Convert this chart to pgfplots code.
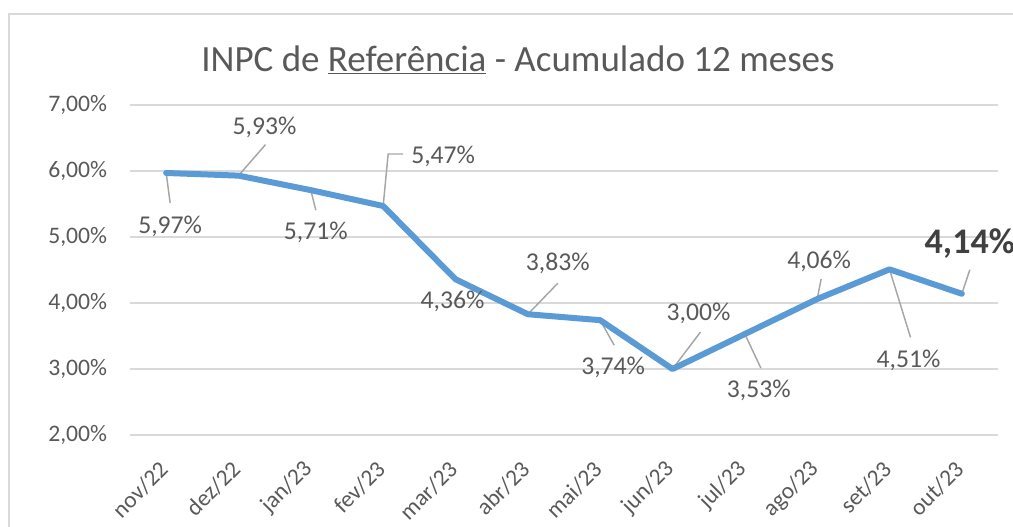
\documentclass[border=0pt]{standalone}
\usepackage{pgfplots}
\pgfplotsset{compat=1.18}
\usepackage{pgfplotstable}
\usepackage{fontspec}
\setmainfont{Carlito}
\definecolor{linec}{HTML}{5B9BD5}
\definecolor{txt}{HTML}{595959}
\definecolor{dark}{HTML}{404040}
\definecolor{gridc}{HTML}{D9D9D9}
\definecolor{lead}{HTML}{A6A6A6}
\pgfkeys{/pgf/number format/assume math mode=true}

% x, value, label offset (pt, from point to label centre)
\pgfplotstableread{
x y dx dy
0 5.97 3 -39.75
1 5.93 19.5 36
2 5.71 3.75 -31.9
3 5.47 45 37.5
4 4.36 -2.25 -16.9
5 3.83 22.5 38.3
6 3.74 9.75 -35.25
7 3.00 19.5 42
8 3.53 10.5 -42
9 4.06 1.5 28.5
10 4.51 14.25 -68.25
11 4.14 6 37.5
}\data

\begin{document}
\begin{tikzpicture}
\path[use as bounding box] (-97.5pt,-68.25pt) rectangle (662.25pt,326.25pt);
\draw[gridc, line width=1.2pt] (-90.75pt,-90pt) -- (-90.75pt,315.75pt) -- (700pt,315.75pt);
\begin{axis}[
  at={(0pt,0pt)}, anchor=south west,
  scale only axis, width=651pt, height=247.5pt,
  xmin=-0.5, xmax=11.5, ymin=2, ymax=7,
  axis line style={draw=none},
  tick style={draw=none},
  ymajorgrids, major grid style={gridc, line width=1.1pt},
  ytick={2,3,4,5,6,7},
  yticklabel={\pgfmathprintnumber[fixed,fixed zerofill,precision=2,use comma]{\tick}\%},
  yticklabel style={text=txt, font=\fontsize{17.75}{20}\selectfont, anchor=east, inner sep=0pt, xshift=-17pt},
  xtick={0,...,11},
  xticklabels={nov/22,dez/22,jan/23,fev/23,mar/23,abr/23,mai/23,jun/23,jul/23,ago/23,set/23,out/23},
  xticklabel style={text=txt, font=\fontsize{17.5}{20}\selectfont, inner sep=0pt, xshift=-1.5pt, yshift=-23pt, rotate=45, anchor=east},
  clip=false,
]
% leader lines
\draw[lead, line width=1.1pt] (axis cs:0,5.97) -- ++(3pt,-22.5pt);
\draw[lead, line width=1.1pt] (axis cs:1,5.93) -- ++(20.25pt,23.25pt);
\draw[lead, line width=1.1pt] (axis cs:2,5.71) -- ++(3.75pt,-15pt);
\draw[lead, line width=1.1pt] (axis cs:3,5.47) -- ++(3.75pt,39pt) -- ++(11.25pt,0pt);
\draw[lead, line width=1.1pt] (axis cs:5,3.83) -- ++(22.5pt,23.25pt);
\draw[lead, line width=1.1pt] (axis cs:6,3.74) -- ++(10.5pt,-18.75pt);
\draw[lead, line width=1.1pt] (axis cs:7,3.00) -- ++(21pt,27.75pt);
\draw[lead, line width=1.1pt] (axis cs:8,3.53) -- ++(12pt,-25.5pt);
\draw[lead, line width=1.1pt] (axis cs:9,4.06) -- ++(3pt,15pt);
\draw[lead, line width=1.1pt] (axis cs:10,4.51) -- ++(15.75pt,-51pt);
\draw[lead, line width=1.1pt] (axis cs:11,4.14) -- ++(6pt,18pt);
% the series
\addplot[linec, line width=4.5pt, line join=round, line cap=round, mark=none] table[x=x,y=y] {\data};
% data labels
\addplot[draw=none, mark=none,
  skip coords between index={11}{12},
  visualization depends on={\thisrow{dx} \as \dx},
  visualization depends on={\thisrow{dy} \as \dy},
  nodes near coords={\pgfmathprintnumber[fixed,fixed zerofill,precision=2,use comma]{\pgfplotspointmeta}\%},
  every node near coord/.style={anchor=center, inner sep=0pt, xshift=\dx pt, yshift=\dy pt, text=txt, font=\fontsize{19.25}{22}\selectfont},
] table[x=x,y=y] {\data};
\addplot[draw=none, mark=none,
  skip coords between index={0}{11},
  visualization depends on={\thisrow{dx} \as \dx},
  visualization depends on={\thisrow{dy} \as \dy},
  nodes near coords={\pgfmathprintnumber[fixed,fixed zerofill,precision=2,use comma]{\pgfplotspointmeta}\%},
  every node near coord/.style={anchor=center, inner sep=0pt, xshift=\dx pt, yshift=\dy pt, text=dark, font=\fontsize{27}{30}\selectfont\bfseries},
] table[x=x,y=y] {\data};
\end{axis}
\node[text=txt, font=\fontsize{27.75}{32}\selectfont, inner sep=0pt] at (291pt,281.25pt) {INPC de \underline{Referência} - Acumulado 12 meses};
\end{tikzpicture}
\end{document}
